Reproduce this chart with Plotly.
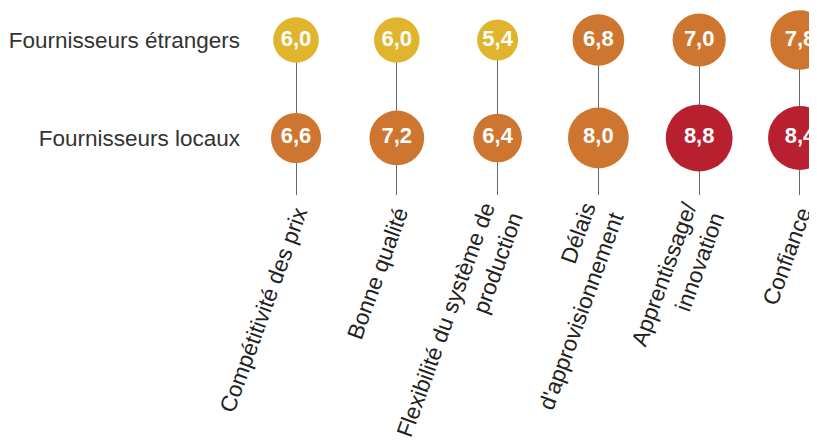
import plotly.graph_objects as go

categories = ["Compétitivité des prix", "Bonne qualité", "Flexibilité du système de<br>production",
              "Délais<br>d'approvisionnement", "Apprentissage/<br>innovation", "Confiance"]
rows = ["Fournisseurs étrangers", "Fournisseurs locaux"]
foreign = [6.0, 6.0, 5.4, 6.8, 7.0, 7.8]
local = [6.6, 7.2, 6.4, 8.0, 8.8, 8.4]

YELLOW = "#E0B52D"
ORANGE = "#CE762F"
RED = "#B8202F"
FONT = "Liberation Sans, Arial, Helvetica, sans-serif"


def color(v):
    if v < 6.2:
        return YELLOW
    if v < 8.2:
        return ORANGE
    return RED


def fmt(v):
    return f"{v:.1f}".replace(".", ",")


fig = go.Figure()
for ri, vals in enumerate([foreign, local]):
    fig.add_trace(go.Scatter(
        x=categories, y=[ri] * len(vals),
        mode="markers+text",
        marker=dict(size=[7.6 * v for v in vals], color=[color(v) for v in vals],
                    opacity=1, line=dict(width=0)),
        text=[fmt(v) for v in vals],
        textposition="middle center",
        textfont=dict(family=FONT, size=22, color="white", weight="bold"),
        cliponaxis=False, hoverinfo="skip", showlegend=False,
    ))

fig.update_layout(
    width=809, height=438,
    margin=dict(l=233, r=0, t=32, b=251),
    paper_bgcolor="white", plot_bgcolor="white",
    font=dict(family=FONT, size=22, color="#222"),
    xaxis=dict(type="category", range=[-0.546, 5.169], showgrid=True,
               gridcolor="#6a6a6a", gridwidth=1.2, zeroline=False, showline=False,
               ticks="", tickangle=-70, automargin=False,
               ticklabelstandoff=0, ticklabelshift=1,
               tickfont=dict(family=FONT, size=22.6, color="#222")),
    yaxis=dict(range=[1.582, 0], tickvals=[0, 1], ticktext=rows, showgrid=False,
               zeroline=False, showline=False, ticks="", automargin=False,
               tickfont=dict(family=FONT, size=22.5, color="#333")),
)

fig.write_html("out.html")
